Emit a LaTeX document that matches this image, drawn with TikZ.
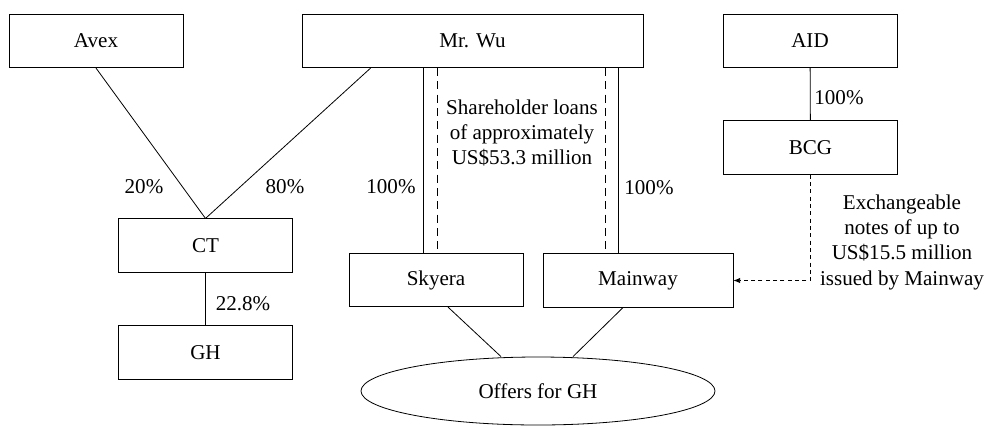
\documentclass[tikz,border=0pt]{standalone}
\usepackage{fontspec}
\setmainfont{Liberation Serif}
\usetikzlibrary{shapes.geometric,arrows.meta}

\begin{document}
\begin{tikzpicture}[x=0.75pt,y=-0.75pt,
    font=\fontsize{15.8}{19}\selectfont,
    box/.style={draw, line width=0.6pt, minimum width=130.5pt, minimum height=40pt, inner sep=0pt},
    link/.style={line width=0.6pt},
    loan/.style={line width=0.6pt, dash pattern=on 6pt off 4pt},
    note/.style={line width=0.6pt, dash pattern=on 3pt off 2.5pt}]
    \useasboundingbox (0,0) rectangle (986,426);
    % boxes
    \node[box] (avex) at (96,41) {Avex};
    \node[box, minimum width=255.75pt] (wu) at (472.5,41) {Mr. Wu};
    \node[box] (aid) at (810,41) {AID};
    \node[box] (bcg) at (810.5,147.5) {BCG};
    \node[box] (ct) at (205.5,245.5) {CT};
    \node[box] (gh) at (205.5,352.5) {GH};
    \node[box] (skyera) at (436,280) {Skyera};
    \node[box, minimum width=142.5pt] (mainway) at (638,280.5) {Mainway};
    \node[draw, ellipse, line width=0.6pt, minimum width=265.5pt, minimum height=51pt, inner sep=0pt] (offers) at (538,391) {Offers for GH};
    % percentages
    \node (pavex) at (144,187) {20\%};
    \node (pwu) at (285,187) {80\%};
    \node (psky) at (391,187) {100\%};
    \node (pmain) at (649,188) {100\%};
    \node (pbcg) at (839,98) {100\%};
    \node (pgh) at (243,304) {22.8\%};
    \node[align=center] (loans) at (522,133) {Shareholder loans\\of approximately\\US\$53.3 million};
    \node[align=center] (notes) at (902,242) {Exchangeable\\notes of up to\\US\$15.5 million\\issued by Mainway};
    % links
    \draw[link] (avex.south) -- (ct.north);
    \draw[link] ([xshift=51.75pt]wu.south west) -- (ct.north);
    \draw[link] (ct) -- (gh);
    \draw[link] (aid) -- (bcg);
    \coordinate (skA) at ([xshift=-9.75pt]skyera.north);
    \coordinate (skB) at ([xshift=0.75pt]skyera.north);
    \coordinate (mwA) at ([xshift=-24.75pt]mainway.north);
    \coordinate (mwB) at ([xshift=-15pt]mainway.north);
    \draw[link] (skA |- wu.south) -- (skA);
    \draw[loan] (skB |- wu.south) -- (skB);
    \draw[loan] (mwA |- wu.south) -- (mwA);
    \draw[link] (mwB |- wu.south) -- (mwB);
    \draw[link] ([xshift=9pt]skyera.south) -- ([xshift=-27.75pt]offers.north);
    \draw[link] ([xshift=-11.25pt]mainway.south) -- ([xshift=26.25pt]offers.north);
    \draw[note, -{Latex[length=5pt,width=4pt]}] (bcg.south) |- (mainway.east);
\end{tikzpicture}
\end{document}
